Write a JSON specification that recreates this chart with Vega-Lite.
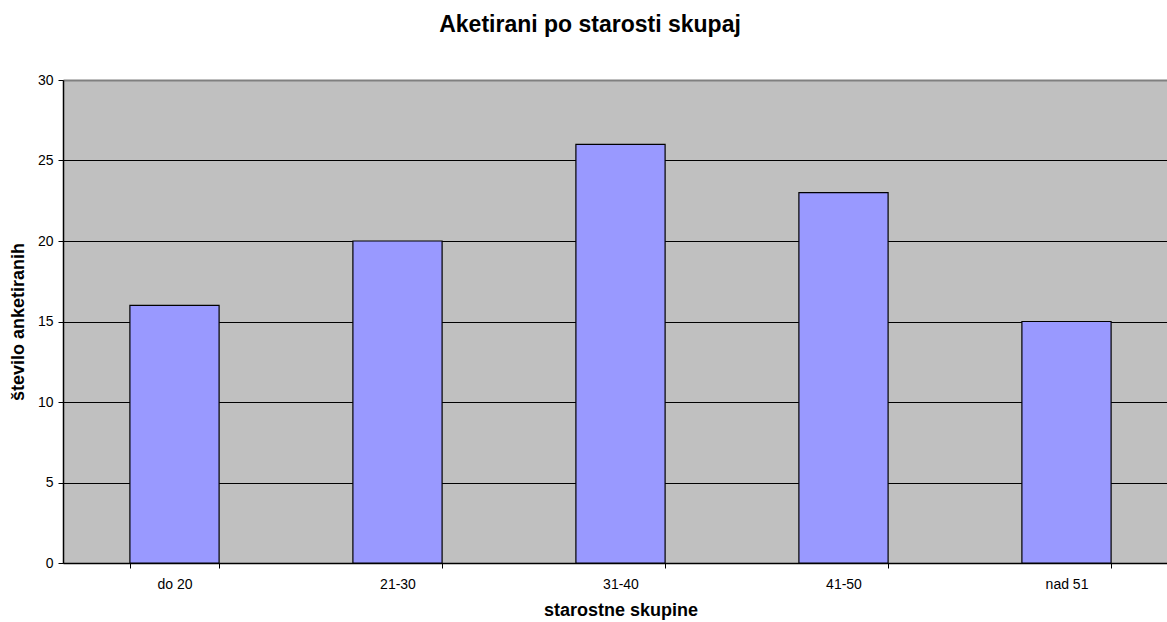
{
  "$schema": "https://vega.github.io/schema/vega-lite/v6.json",
  "autosize": "none",
  "padding": {"left": 63, "top": 80, "right": 0, "bottom": 59},
  "width": 1104,
  "height": 483,
  "background": "white",
  "title": {
    "text": "Aketirani po starosti skupaj",
    "font": "Liberation Sans",
    "fontSize": 23,
    "fontWeight": "bold",
    "color": "black",
    "anchor": "middle",
    "offset": 36,
    "frame": "group",
    "dx": -25
  },
  "config": {
    "view": {"fill": "#C0C0C0", "stroke": null},
    "axis": {"labelFont": "Liberation Sans", "titleFont": "Liberation Sans", "labelColor": "black", "titleColor": "black", "domainColor": "black", "tickColor": "black"}
  },
  "data": {
    "values": [
      {"skupina": "do 20", "stevilo": 16},
      {"skupina": "21-30", "stevilo": 20},
      {"skupina": "31-40", "stevilo": 26},
      {"skupina": "41-50", "stevilo": 23},
      {"skupina": "nad 51", "stevilo": 15}
    ]
  },
  "mark": {"type": "bar", "color": "#9999FF", "stroke": "black", "strokeWidth": 1.2},
  "encoding": {
    "x": {
      "field": "skupina",
      "type": "nominal",
      "sort": null,
      "scale": {"range": [0, 1115], "paddingInner": 0.6, "paddingOuter": 0.3},
      "axis": {
        "title": "starostne skupine",
        "titleFontSize": 18,
        "titleFontWeight": "bold",
        "titlePadding": 10,
        "labelFontSize": 14,
        "labelAngle": 0,
        "labelPadding": 9,
        "ticks": true,
        "tickBand": "extent",
        "tickSize": 5,
        "domainWidth": 1.5,
        "grid": false
      }
    },
    "y": {
      "field": "stevilo",
      "type": "quantitative",
      "scale": {"domain": [0, 30], "nice": false},
      "axis": {
        "title": "število anketiranih",
        "titleFontSize": 18,
        "titleFontWeight": "bold",
        "titlePadding": 10,
        "labelFontSize": 14,
        "labelPadding": 5,
        "tickSize": 5,
        "values": [0, 5, 10, 15, 20, 25, 30],
        "domainWidth": 1.5,
        "grid": true,
        "gridColor": {"condition": {"test": "datum.value == 30", "value": "#808080"}, "value": "black"},
        "gridWidth": {"condition": {"test": "datum.value == 30", "value": 2}, "value": 1}
      }
    }
  }
}
